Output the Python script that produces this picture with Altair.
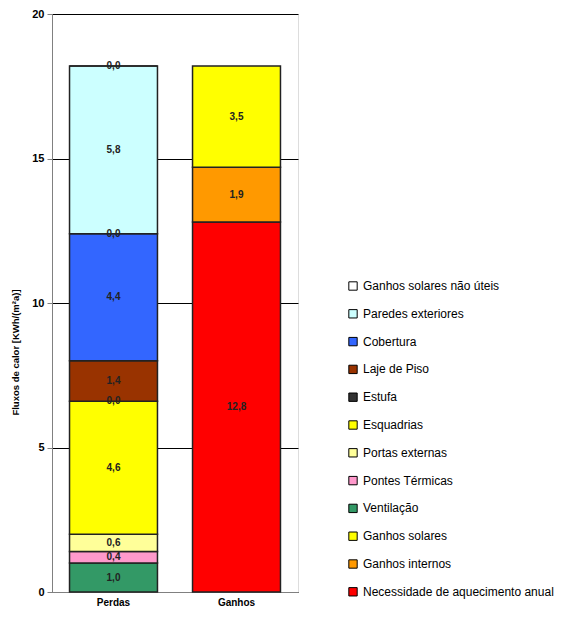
import altair as alt
import pandas as pd

categories = ["Perdas", "Ganhos"]

# stack order bottom -> top
perdas_series = ["Ventilação", "Pontes Térmicas", "Portas externas", "Esquadrias",
                 "Estufa", "Laje de Piso", "Cobertura", "Pavimentos",
                 "Paredes exteriores", "Ganhos solares não úteis"]
perdas_values = [1.0, 0.4, 0.6, 4.6, 0.0, 1.4, 4.4, 0.0, 5.8, 0.0]

ganhos_series = ["Necessidade de aquecimento anual", "Ganhos internos", "Ganhos solares"]
ganhos_values = [12.8, 1.9, 3.5]

legend_order = ["Ganhos solares não úteis", "Paredes exteriores", "Cobertura", "Laje de Piso",
                "Estufa", "Esquadrias", "Portas externas", "Pontes Térmicas", "Ventilação",
                "Ganhos solares", "Ganhos internos", "Necessidade de aquecimento anual"]
legend_colors = ["#FFFFFF", "#CCFFFF", "#3366FF", "#993300",
                 "#333333", "#FFFF00", "#FFFF99", "#FF99CC", "#339966",
                 "#FFFF00", "#FF9900", "#FF0000"]

rows = []
for i, (s, v) in enumerate(zip(perdas_series, perdas_values)):
    rows.append({"cat": "Perdas", "series": s, "value": v, "order": i})
for i, (s, v) in enumerate(zip(ganhos_series, ganhos_values)):
    rows.append({"cat": "Ganhos", "series": s, "value": v, "order": i})
df = pd.DataFrame(rows)

FONT = "Liberation Sans"

base = alt.Chart(df).transform_stack(
    stack="value", groupby=["cat"], as_=["y0", "y1"],
    sort=[alt.SortField("order", order="ascending")]
).transform_calculate(
    mid="(datum.y0 + datum.y1) / 2",
    label="replace(format(datum.value, '.1f'), '.', ',')"
)

xenc = alt.X("cat:N", sort=categories,
             scale=alt.Scale(paddingInner=0.285, paddingOuter=0.1425),
             axis=alt.Axis(title=None, labelFont=FONT, labelFontSize=10, labelFontWeight="bold",
                           labelColor="#000", labelAngle=0, labelPadding=5, ticks=False,
                           domainColor="#808080", grid=False))

bars = base.transform_filter("datum.series != 'Pavimentos'").mark_bar(
    stroke="#222222", strokeWidth=1.5
).encode(
    x=xenc,
    y=alt.Y("y0:Q", scale=alt.Scale(domain=[0, 20], nice=False),
            axis=alt.Axis(title="Fluxos de calor [KWh/(m²a)]", values=[0, 5, 10, 15, 20],
                          labelFont=FONT, labelFontSize=11, labelFontWeight="bold",
                          labelColor="#000", tickSize=5, tickColor="#808080",
                          domainColor="#808080", labelPadding=3,
                          gridColor="#000", gridWidth=1, gridOpacity=1,
                          titleFont=FONT, titleFontSize=9.5, titleFontWeight="bold",
                          titleColor="#000", titleX=-32, titleY=338)),
    y2="y1:Q",
    color=alt.Color("series:N",
                    scale=alt.Scale(domain=legend_order, range=legend_colors),
                    legend=alt.Legend(title=None, orient="none", legendX=295, legendY=266,
                                      symbolType="square", symbolSize=70,
                                      symbolStrokeColor="#000", symbolStrokeWidth=1,
                                      labelFont=FONT, labelFontSize=12, labelColor="#000",
                                      rowPadding=13.8, labelOffset=4, labelLimit=300)),
    order=alt.Order("order:Q")
)

texts = base.mark_text(font=FONT, fontSize=10, fontWeight="bold", color="#222").encode(
    x=alt.X("cat:N", sort=categories),
    y=alt.Y("mid:Q"),
    text="label:N"
)

chart = alt.layer(bars, texts).properties(
    width=246, height=578,
    padding={"left": 44, "top": 6, "right": 270, "bottom": 19},
    autosize=alt.AutoSizeParams(type="none")
).configure_view(stroke="#808080", strokeWidth=1).configure(background="white")

chart.save("out.html", embed_options={"renderer": "svg", "actions": False})
